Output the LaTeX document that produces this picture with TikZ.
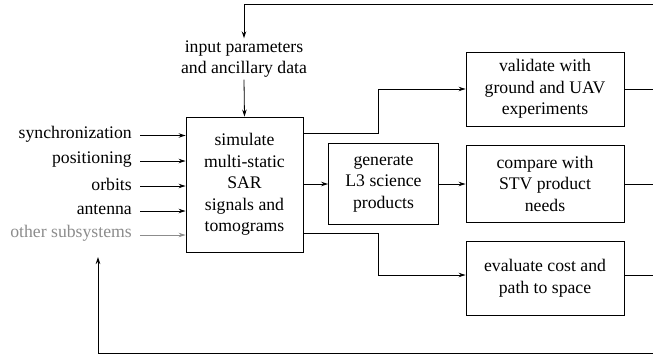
\documentclass[tikz,border=0pt]{standalone}
\usepackage{fontspec}
\setmainfont{Liberation Serif}
\usetikzlibrary{arrows.meta,calc}
\begin{document}
\begin{tikzpicture}[x=1pt,y=-1pt,
  every node/.style={font=\fontsize{17.7}{21.5}\selectfont},
  box/.style={draw,line width=0.9pt,align=center,inner sep=0pt},
  lbl/.style={inner sep=0pt,anchor=east},
  conn/.style={line width=0.8pt},
  arr/.style={conn,-{Stealth[length=7pt,width=4.5pt]}},
  grayarr/.style={line width=0.8pt,black!45,-{Stealth[length=7pt,width=4.5pt]}}]
\useasboundingbox (0,0) rectangle (653,356);
% boxes
\node[box,minimum width=117pt,minimum height=135pt] (sim) at (244.5,184.5) {simulate\\multi-static\\SAR\\signals and\\tomograms};
\node[box,minimum width=110pt,minimum height=81pt] (gen) at (383.5,183.5) {generate\\L3 science\\products};
\node[box,minimum width=158pt,minimum height=74pt] (val) at (545,89) {validate with\\ground and UAV\\experiments};
\node[box,minimum width=158pt,minimum height=77pt] (cmp) at (545,183.5) {compare with\\STV product\\needs};
\node[box,minimum width=158pt,minimum height=74pt] (eva) at (545,278) {evaluate cost and\\path to space};
% input parameters
\node[align=center,inner sep=2pt] (inp) at (244,59) {input parameters\\and ancillary data};
% left inputs
\node[lbl] (syn) at (132,134) {synchronization};
\node[lbl] (pos) at (132,159.5) {positioning};
\node[lbl] (orb) at (132,184.5) {orbits};
\node[lbl] (ant) at (132,209.5) {antenna};
\node[lbl,text=black!45] (oth) at (132,233.5) {other subsystems};
\foreach \n in {syn,pos,orb,ant}{
  \draw[arr] ($(\n.east)+(8,1.5)$) -- (sim.west |- {$(\n.east)+(0,1.5)$});
}
\draw[grayarr] ($(oth.east)+(8,1.5)$) -- (sim.west |- {$(oth.east)+(0,1.5)$});
% coordinates at the picture edge
\coordinate (topR) at (653,4);
\coordinate (botR) at (653,353);
\coordinate (botL) at (98,353);
\coordinate (othB) at (98,257);
\coordinate (rv) at (653,89);
\coordinate (rc) at (653,184);
\coordinate (re) at (653,275);
\coordinate (su) at (303,133);
\coordinate (sd) at (303,233);
% connectors
\draw[arr] (topR) -- (244,4) -- (inp.north);
\draw[arr] (inp.south) -- (sim.north);
\draw[arr] (sim.east |- 0,184) -- (gen.west |- 0,184);
\draw[arr] (gen.east |- 0,184) -- (cmp.west |- 0,184);
\draw[arr] (su) -- (378,133) -- (378,89) -- (val.west |- 0,89);
\draw[arr] (sd) -- (378,233) -- (378,275) -- (eva.west |- 0,275);
\draw[conn] (val.east |- 0,89) -- (rv);
\draw[conn] (cmp.east |- 0,184) -- (rc);
\draw[conn] (eva.east |- 0,275) -- (re);
\draw[arr] (botR) -- (botL) -- (othB);
\end{tikzpicture}
\end{document}
